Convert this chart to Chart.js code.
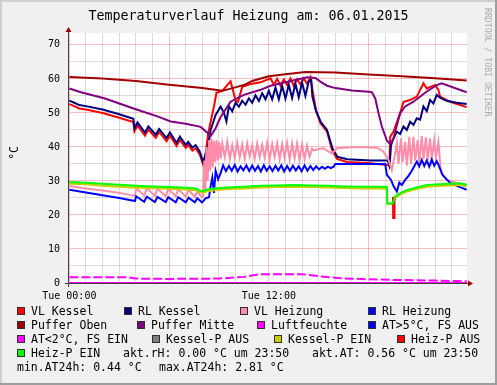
<!DOCTYPE html>
<html>
<head>
<meta charset="utf-8">
<title>Temperaturverlauf Heizung</title>
<script src="https://cdn.jsdelivr.net/npm/chart.js@4.4.1/dist/chart.umd.min.js"></script>
<style>
  html, body { margin: 0; padding: 0; background: #f0f0f0; }
  #wrap { position: relative; width: 497px; height: 385px; overflow: hidden; }
  #wrap canvas { position: absolute; left: 0; top: 0; }
  .txt { position: absolute; font-family: "DejaVu Sans Mono", monospace; color: #000; white-space: pre; }
  #title { left: 0; width: 497px; top: 8px; text-align: center; font-size: 13.3px; line-height: 16px; }
  #unit { left: 7px; top: 146px; font-size: 11.5px; writing-mode: vertical-rl; transform: rotate(180deg); }
  #mark { left: 483px; top: 8px; font-size: 8.2px; color: #aaaaaa; writing-mode: vertical-rl; }
  .leg { font-size: 11.5px; line-height: 14px; }
  .box { position: absolute; width: 6px; height: 6px; border: 1px solid #303030; }
</style>
</head>
<body>
<div id="wrap">
  <canvas id="chart" width="497" height="385"></canvas>
  <div class="txt" id="title">Temperaturverlauf Heizung am: 06.01.2015</div>
  <div class="txt" id="unit">°C</div>
  <div class="txt" id="mark">RRDTOOL / TOBI OETIKER</div>
</div>
<script>
"use strict";

// hours since Tue 00:00 / °C
var vlKesselT = [0, 0.3, 0.6, 1, 2, 3, 3.85, 3.92, 4.1, 4.55, 4.75, 5.2, 5.4, 5.85, 6.05, 6.45, 6.65, 7.0, 7.15, 7.4, 7.6, 7.85, 8.05, 8.2, 8.35, 8.5, 8.7, 8.85, 9.2, 9.5, 9.7, 9.85, 10.0, 10.15, 10.4, 10.9, 11.5, 12.1, 12.3, 12.5, 12.7, 12.9, 13.1, 13.3, 13.5, 13.7, 13.9, 14.1, 14.3, 14.5, 14.65, 14.85, 15.1, 15.5, 15.8, 16.1, 16.7, 18.1, 19.0, 19.25, 19.3, 19.5, 19.9, 20.1, 20.5, 20.9, 21.3, 21.5, 21.8, 22.0, 22.2, 22.3, 22.9, 23.9];
var vlKesselV = [52.6, 52.0, 51.3, 51.0, 50.0, 48.6, 47.3, 44.6, 46.3, 43.3, 45.1, 42.7, 44.4, 41.7, 43.4, 40.3, 42.1, 39.7, 40.6, 38.9, 39.6, 37.7, 34.8, 38.0, 44.0, 47.4, 51.9, 55.9, 56.5, 58.2, 59.3, 56.5, 53.5, 53.3, 57.7, 58.5, 59.0, 60.2, 58.3, 60.0, 58.0, 59.8, 58.2, 60.1, 58.0, 59.9, 58.4, 60.2, 58.6, 60.5, 56.0, 50.5, 47.0, 44.5, 39.2, 36.5, 35.6, 35.2, 34.8, 34.5, 43.0, 44.5, 50.0, 53.3, 53.8, 54.8, 58.7, 57.2, 57.8, 58.2, 56.8, 54.8, 53.3, 51.7];

var rlKesselT = [0, 0.3, 0.6, 1, 2, 3, 3.85, 3.92, 4.1, 4.55, 4.75, 5.2, 5.4, 5.85, 6.05, 6.45, 6.65, 7.0, 7.15, 7.4, 7.6, 7.85, 8.05, 8.2, 8.35, 8.5, 8.8, 9.1, 9.3, 9.45, 9.6, 9.8, 10.0, 10.2, 10.4, 10.6, 10.8, 11.0, 11.2, 11.4, 11.6, 11.8, 12.0, 12.2, 12.4, 12.6, 12.8, 13.0, 13.2, 13.4, 13.6, 13.8, 14.0, 14.2, 14.4, 14.55, 14.62, 14.82, 15.12, 15.5, 15.82, 16.12, 16.72, 18.1, 19.15, 19.25, 19.3, 19.35, 19.5, 19.7, 19.9, 20.1, 20.3, 20.5, 20.7, 20.9, 21.1, 21.3, 21.5, 21.7, 21.9, 22.1, 22.3, 22.5, 22.7, 23.3, 23.9];
var rlKesselV = [53.6, 53.0, 52.3, 52.0, 51.0, 49.6, 48.3, 45.5, 47.2, 44.2, 46.0, 43.6, 45.3, 42.6, 44.3, 41.2, 43.0, 40.6, 41.5, 39.8, 40.5, 38.6, 35.5, 38.0, 40.5, 45.0, 49.4, 51.9, 50.0, 47.5, 52.0, 50.5, 53.0, 51.8, 53.6, 52.4, 54.3, 53.0, 55.2, 53.5, 55.8, 54.0, 56.5, 54.0, 57.5, 54.0, 58.0, 54.2, 58.3, 54.4, 58.6, 54.6, 59.0, 55.0, 59.3, 59.7, 54.8, 50.9, 47.4, 45.0, 39.7, 37.1, 36.4, 36.0, 36.0, 34.5, 37.0, 40.5, 42.5, 44.5, 43.8, 46.0, 45.0, 47.4, 46.5, 48.4, 48.0, 51.9, 50.5, 53.8, 52.8, 55.3, 54.5, 54.0, 53.6, 53.0, 52.6];

var vlHeizungT = [0, 1, 2, 3, 3.95, 4.02, 4.5, 4.66, 5.15, 5.3, 5.8, 5.95, 6.4, 6.55, 7.0, 7.17, 7.55, 7.7, 7.98,
  8.05, 8.12, 8.18, 8.25, 8.32, 8.4, 8.47, 8.55, 8.62, 8.7, 8.78, 8.86, 8.94, 9.02, 9.1,
  9.2, 9.35, 9.5, 9.65, 9.8, 9.95, 10.1, 10.25, 10.4, 10.55, 10.7, 10.85, 11.0, 11.15, 11.3, 11.45, 11.6, 11.75, 11.9,
  12.05, 12.2, 12.35, 12.5, 12.65, 12.8, 12.95, 13.1, 13.25, 13.4, 13.55, 13.7, 13.85, 14.0, 14.15, 14.3, 14.45, 14.6,
  14.7, 15.0, 15.3, 15.6, 15.8, 16.1, 16.5, 17, 18, 18.5, 18.9, 19.2, 19.4, 19.6,
  19.7, 19.8, 19.95, 20.05, 20.2, 20.3, 20.45, 20.55, 20.7, 20.8, 20.95, 21.05, 21.2, 21.3, 21.45, 21.55, 21.7, 21.8, 21.95, 22.05, 22.2,
  22.35, 22.7, 23.3, 23.9];
var vlHeizungV = [28.5, 27.8, 27.2, 26.5, 25.6, 27.9, 25.7, 27.9, 25.6, 27.8, 25.5, 27.7, 25.5, 27.6, 25.4, 27.4, 25.3, 26.9, 25.2,
  25.5, 36, 27, 40, 30, 42, 33, 42.5, 34, 41.8, 35.5, 42, 36, 41.5, 36.5,
  41, 37, 41.5, 36.5, 40.5, 36.8, 41.2, 37, 40.8, 36.5, 41, 37.2, 40.5, 36.6, 41, 37, 40.6, 36.8, 41.2,
  36.4, 40.8, 37, 41, 36.5, 40.8, 36.8, 41.2, 36.3, 40.9, 36.6, 41, 36.2, 40.7, 36.5, 40.4, 37.2, 39.5,
  39.0, 39.4, 39.6, 38.6, 38.1, 39.6, 39.8, 39.9, 39.9, 39.8, 38.6, 36.2, 33.2, 38.2,
  41, 35, 42.5, 35.5, 41.5, 34.5, 43, 35, 43, 36, 42, 35, 43.2, 36.5, 42.8, 36, 42.5, 36.5, 42, 37, 41.5,
  32.5, 30.3, 29.4, 28.8];

var rlHeizungT = [0, 1, 2, 3, 3.95, 4.02, 4.5, 4.66, 5.15, 5.3, 5.8, 5.95, 6.4, 6.55, 7.0, 7.17, 7.55, 7.7, 7.98,
  8.2, 8.4, 8.5, 8.6, 8.7, 8.8, 8.95, 9.1,
  9.25, 9.42, 9.6, 9.77, 9.95, 10.12, 10.3, 10.47, 10.65, 10.82, 11.0, 11.17, 11.35, 11.52, 11.7, 11.87, 12.05, 12.22, 12.4, 12.57,
  12.75, 12.92, 13.1, 13.27, 13.45, 13.62, 13.8, 13.97, 14.15, 14.32, 14.5, 14.67, 14.85, 15.02, 15.2, 15.37, 15.55, 15.72, 15.9,
  16.0, 19.0, 19.1, 19.35, 19.5, 19.7, 19.85, 20.0, 20.2, 20.4, 20.6, 20.9,
  21.05, 21.2, 21.35, 21.5, 21.65, 21.8, 21.95, 22.1, 22.2, 22.45, 22.9, 23.5, 23.9];
var rlHeizungV = [27.4, 26.6, 25.8, 25.0, 24.1, 25.5, 23.9, 25.4, 23.8, 25.3, 23.8, 25.2, 23.7, 25.2, 23.7, 25.1, 23.7, 24.9, 23.7,
  24.9, 25.2, 28.5, 31, 26.5, 33, 30.5, 32.3,
  34.6, 32.9, 34.4, 33.0, 34.7, 32.8, 34.3, 33.1, 34.6, 32.9, 34.5, 33.0, 34.4, 32.8, 34.6, 33.0, 34.3, 32.9, 34.5, 33.1,
  34.6, 32.8, 34.4, 33.0, 34.5, 33.1, 34.3, 32.9, 34.6, 33.0, 34.4, 33.2, 34.3, 33.4, 34.2, 33.6, 34.2, 33.8, 34.2,
  35.0, 35.0, 31.8, 30.3, 28.5, 26.9, 29.5, 28.8, 30.3, 31.5, 33.0, 35.7,
  34.3, 36.2, 34.4, 36.0, 34.2, 36.3, 34.5, 35.8, 34.8, 31.8, 29.4, 28.2, 27.4];

var pufferObenT = [0, 2, 4, 6, 8, 9.2, 9.6, 10.2, 10.5, 11, 12, 13, 14.2, 16, 18, 20, 22, 23.9];
var pufferObenV = [60.6, 60.1, 59.4, 58.3, 57.3, 56.5, 57.0, 57.8, 58.2, 59.4, 60.8, 61.4, 62.0, 61.9, 61.3, 60.8, 60.2, 59.5];

var pufferMitteT = [0, 0.7, 2.1, 4.0, 5.3, 6.1, 7.0, 7.9, 8.3, 8.5, 8.8, 9.1, 9.7, 10.5, 11.5, 12.1, 13.0, 14.3, 14.8, 15.1, 15.5, 16.0, 17.0, 18.0, 18.2, 18.4, 18.6, 18.8, 19.1, 19.3, 19.5, 19.7, 19.9, 20.2, 20.7, 21.5, 22.1, 22.4, 23.9];
var pufferMitteV = [57.2, 56.1, 54.3, 51.1, 49.0, 47.5, 46.8, 45.9, 44.2, 43.2, 45.5, 48.8, 53.3, 55.3, 56.8, 58.0, 59.0, 60.5, 60.3, 59.2, 58.0, 57.3, 56.6, 56.2, 56.1, 54.3, 49.9, 46.0, 41.9, 40.8, 42.5, 46.4, 49.9, 51.9, 53.3, 56.3, 58.2, 58.7, 56.1];

var luftfeuchteT = [-0.08, 23.92];
var luftfeuchteV = [0, 0];

var aussenT = [0, 3.5, 4.0, 6, 9, 10.5, 11.5, 14, 15, 16.3, 18, 19.5, 22, 23.9];
var aussenV = [1.7, 1.7, 1.3, 1.2, 1.3, 1.8, 2.6, 2.6, 2.0, 1.4, 1.1, 0.9, 0.7, 0.5];

var kesselPEinT = [0, 1, 2, 3, 4, 5, 6, 7, 7.6, 7.8, 8.0, 8.3, 8.7, 9.5, 10.5, 11.5, 12.5, 13.5, 14.5, 15.5, 16.5, 17.5, 18.5, 19.1, 19.13, 19.45, 19.6, 19.9, 20.3, 20.9, 21.5, 22.5, 23.5, 23.9];
var kesselPEinV = [29.2, 29.0, 28.6, 28.3, 28.0, 27.9, 27.7, 27.5, 27.3, 26.9, 26.5, 27.0, 27.3, 27.6, 27.8, 28.1, 28.2, 28.3, 28.2, 28.1, 27.9, 27.8, 27.8, 27.7, 23.2, 23.2, 25.0, 26.0, 26.9, 27.6, 28.3, 28.6, 28.8, 28.4];

var heizPAusT = [19.47, 19.48, 19.55, 19.56];
var heizPAusV = [25.3, 19.1, 19.1, 25.3];

var heizPEinT = [0, 1, 2, 3, 4, 5, 6, 7, 7.6, 7.8, 8.0, 8.3, 8.7, 9.5, 10.5, 11.5, 12.5, 13.5, 14.5, 15.5, 16.5, 17.5, 18.5, 19.1, 19.13, 19.45, 19.6, 19.9, 20.3, 20.9, 21.5, 22.5, 23.5, 23.9];
var heizPEinV = [29.7, 29.5, 29.2, 28.9, 28.6, 28.4, 28.2, 28.0, 27.8, 27.3, 26.9, 27.5, 27.8, 28.1, 28.3, 28.6, 28.7, 28.8, 28.7, 28.6, 28.4, 28.3, 28.3, 28.2, 23.4, 23.4, 25.4, 26.4, 27.3, 28.1, 28.8, 29.1, 29.3, 28.9];

var xTickHours = [0, 12];
var xTickText = ["Tue 00:00", "Tue 12:00"];

var legendNames = ["VL Kessel", "RL Kessel", "VL Heizung", "RL Heizung",
  "Puffer Oben", "Puffer Mitte", "Luftfeuchte", "AT>5°C, FS AUS",
  "AT<2°C, FS EIN", "Kessel-P AUS", "Kessel-P EIN", "Heiz-P AUS", "Heiz-P EIN"];
var legendColors = ["#ff0000", "#000080", "#ff8ca8", "#0000ff",
  "#a00000", "#800080", "#ff00ff", "#0000ff",
  "#ff00ff", "#808080", "#cccc00", "#ff0000", "#00ff00"];
var infoLines = ["akt.rH: 0.00 °C um 23:50", "akt.AT: 0.56 °C um 23:50", "min.AT24h: 0.44 °C", "max.AT24h: 2.81 °C"];

var MONO = "'DejaVu Sans Mono', monospace";
var MAJOR = "rgba(235, 80, 80, 0.36)";
var MINOR = "rgba(140, 140, 140, 0.3)";

function pairs(t, v) {
  var out = [];
  for (var i = 0; i < Math.min(t.length, v.length); i++) out.push({ x: t[i], y: v[i] });
  return out;
}

function series(label, t, v, color, dash) {
  return {
    label: label, data: pairs(t, v), borderColor: color, backgroundColor: color,
    borderWidth: 2, pointRadius: 0, tension: 0, fill: false, borderDash: dash || []
  };
}

var backdrop = {
  id: "backdrop",
  beforeDraw: function (chart) {
    var c = chart.ctx, a = chart.chartArea, w = chart.width, h = chart.height;
    c.save();
    c.fillStyle = "#f0f0f0";
    c.fillRect(0, 0, w, h);
    c.fillStyle = "#cfcfcf";
    c.fillRect(0, 0, w, 2);
    c.fillRect(0, 0, 2, h);
    c.fillStyle = "#9e9e9e";
    c.fillRect(0, h - 2, w, 2);
    c.fillRect(w - 2, 0, 2, h);
    c.fillStyle = "#ffffff";
    c.fillRect(a.left, a.top, a.right - a.left, a.bottom - a.top);
    c.restore();
  },
  beforeDatasetsDraw: function (chart) {
    var c = chart.ctx, a = chart.chartArea;
    var x0 = a.left + 0.5, y0 = a.bottom + 0.5;
    c.save();
    c.strokeStyle = "#404040";
    c.lineWidth = 1;
    c.beginPath();
    c.moveTo(x0, a.bottom + 4);
    c.lineTo(x0, a.top - 4);
    c.moveTo(a.left - 3, y0);
    c.lineTo(a.right + 3, y0);
    c.stroke();
    c.fillStyle = "#a00000";
    c.beginPath();
    c.moveTo(x0 - 3, a.top - 1);
    c.lineTo(x0 + 3, a.top - 1);
    c.lineTo(x0, a.top - 6);
    c.closePath();
    c.fill();
    c.beginPath();
    c.moveTo(a.right + 1, y0 - 3);
    c.lineTo(a.right + 1, y0 + 3);
    c.lineTo(a.right + 6, y0);
    c.closePath();
    c.fill();
    c.restore();
  }
};

var datasets = [
  series("VL Kessel", vlKesselT, vlKesselV, "#ff0000"),
  series("RL Kessel", rlKesselT, rlKesselV, "#000080"),
  series("VL Heizung", vlHeizungT, vlHeizungV, "#ff8ca8"),
  series("RL Heizung", rlHeizungT, rlHeizungV, "#0000ff"),
  series("Puffer Oben", pufferObenT, pufferObenV, "#a00000"),
  series("Puffer Mitte", pufferMitteT, pufferMitteV, "#800080"),
  series("Luftfeuchte", luftfeuchteT, luftfeuchteV, "#ff00ff"),
  series("AT<2°C, FS EIN", aussenT, aussenV, "#ff00ff", [9, 3]),
  series("Kessel-P EIN", kesselPEinT, kesselPEinV, "#cccc00"),
  series("Heiz-P AUS", heizPAusT, heizPAusV, "#ff0000"),
  series("Heiz-P EIN", heizPEinT, heizPEinV, "#00ff00")
];
// first listed lies at the bottom, like rrdtool
datasets.forEach(function (d, i) { d.order = datasets.length - i; });

var hourTicks = [];
for (var hh = 0; hh < 24; hh++) hourTicks.push({ value: hh });
var degTicks = [];
for (var dd = 0; dd <= 70; dd += 5) degTicks.push({ value: dd });

new Chart(document.getElementById("chart"), {
  type: "line",
  data: { datasets: datasets },
  options: {
    responsive: false, animation: false, devicePixelRatio: 1,
    layout: { padding: { top: 33, right: 30, left: 0, bottom: 0 } },
    plugins: { legend: { display: false }, tooltip: { enabled: false }, title: { display: false } },
    scales: {
      x: {
        type: "linear", min: -0.08, max: 23.92,
        afterBuildTicks: function (s) { s.ticks = hourTicks.slice(); },
        afterFit: function (s) { s.height = 102; },
        border: { display: false },
        grid: { drawTicks: false, color: function (c) { return c.tick && c.tick.value % 6 === 0 ? MAJOR : MINOR; } },
        ticks: {
          autoSkip: false, maxRotation: 0, padding: 7, color: "#000", font: { family: MONO, size: 10 },
          callback: function (v) { var k = xTickHours.indexOf(v); return k < 0 ? "" : xTickText[k]; }
        }
      },
      y: {
        min: 0, max: 73.5,
        afterBuildTicks: function (s) { s.ticks = degTicks.slice(); },
        afterFit: function (s) { s.width = 68; },
        border: { display: false },
        grid: { drawTicks: false, color: function (c) { return c.tick && c.tick.value % 10 === 0 ? MAJOR : MINOR; } },
        ticks: {
          padding: 8, color: "#000", font: { family: MONO, size: 10 },
          callback: function (v) { return v % 10 === 0 ? String(v) : ""; }
        }
      }
    }
  },
  plugins: [backdrop]
});

// legend rows, laid out like the rrdtool one
var wrap = document.getElementById("wrap");
var boxX = [[17, 124, 240, 368], [17, 137, 257, 368], [17, 152, 274, 397], [17]];
var k = 0;
boxX.forEach(function (row, r) {
  row.forEach(function (x) {
    var top = 307 + r * 14;
    var b = document.createElement("div");
    b.className = "box";
    b.style.left = x + "px";
    b.style.top = top + "px";
    b.style.background = legendColors[k];
    wrap.appendChild(b);
    var t = document.createElement("div");
    t.className = "txt leg";
    t.style.left = (x + 14) + "px";
    t.style.top = (top - 3) + "px";
    t.textContent = legendNames[k];
    wrap.appendChild(t);
    k++;
  });
});
var infoPos = [[123, 346], [312, 346], [17, 360], [159, 360]];
infoLines.forEach(function (s, i) {
  var t = document.createElement("div");
  t.className = "txt leg";
  t.style.left = infoPos[i][0] + "px";
  t.style.top = infoPos[i][1] + "px";
  t.textContent = s;
  wrap.appendChild(t);
});
</script>
</body>
</html>
